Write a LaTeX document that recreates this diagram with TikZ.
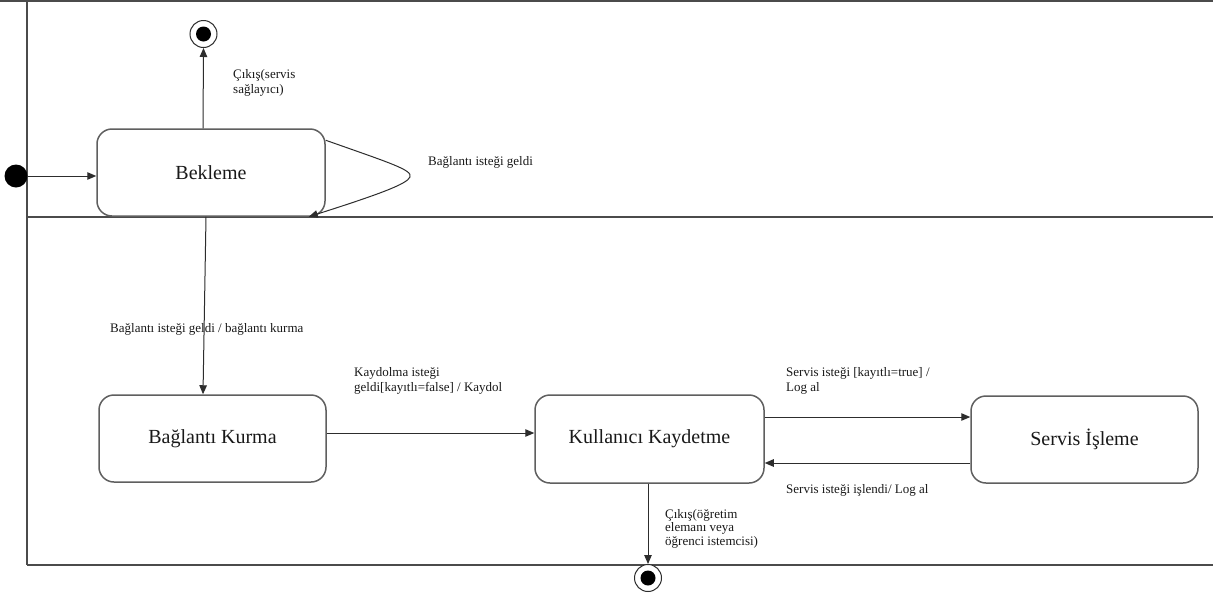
\documentclass[tikz,border=0pt]{standalone}
\usepackage{fontspec}
\setmainfont{Liberation Serif}
\usetikzlibrary{arrows.meta}
\definecolor{linec}{RGB}{45,45,45}
\definecolor{boxc}{RGB}{95,95,95}
\definecolor{framec}{RGB}{75,75,75}
\definecolor{txt}{RGB}{25,25,25}
\begin{document}
\begin{tikzpicture}[x=1pt,y=-1pt,
  statebox/.style={draw=boxc, line width=1.5pt, rounded corners=15pt, fill=white, inner sep=0pt,
    font=\fontsize{20}{24}\selectfont, text=txt},
  lbl/.style={anchor=north west, inner sep=0pt, align=left, font=\fontsize{13}{15}\selectfont, text=txt},
  conn/.style={draw=linec, line width=1pt, -{Triangle[length=9pt,width=7.5pt]}},
  framel/.style={draw=framec, line width=1.5pt},
  finalst/.style={circle, draw=linec, line width=1pt, fill=white, minimum size=27pt, inner sep=0pt,
    path picture={\fill[black] (path picture bounding box.center) circle (7.5pt);}},
]
\useasboundingbox[fill=white] (0,0) rectangle (1213,595);

% frame
\draw[framel] (27,0) -- (27,565);
\draw[framel] (0,0.75) -- (1213,0.75);
\draw[framel] (27,217) -- (1213,217);
\draw[framel] (27,565) -- (1213,565);

% states
\node[statebox, minimum width=228pt, minimum height=87pt] (bek) at (211,172.5) {Bekleme};
\node[statebox, minimum width=227pt, minimum height=87pt] (bk) at (212.5,438.5) {Bağlantı Kurma};
\node[statebox, minimum width=229pt, minimum height=88pt] (kk) at (649.5,439) {Kullanıcı Kaydetme};
\node[statebox, minimum width=227pt, minimum height=87pt] (si) at (1084.5,439.5) {Servis İşleme};

% pseudo states
\node[circle, fill=black, minimum size=23pt, inner sep=0pt] (init) at (16,176) {};
\node[finalst] (fin1) at (203.5,34) {};
\node[finalst] (fin2) at (648,578) {};

% helper coordinates
\coordinate (yk) at (0,433);
\coordinate (ys1) at (0,417);
\coordinate (ys2) at (0,463);

% connectors
\draw[conn] (init.east) -- (bek.west |- init.east);
\draw[conn] ([xshift=-8pt]bek.north) -- (fin1.south);
\draw[conn] ([yshift=-12pt]bek.north east) .. controls (390,163) and (413,170) .. (410,177)
  .. controls (407,184) and (380,194) .. ([xshift=-17pt]bek.south east);
\draw[conn] ([xshift=-5pt]bek.south) -- ([xshift=-9.5pt]bk.north);
\draw[conn] (bk.east |- yk) -- (kk.west |- yk);
\draw[conn] (kk.east |- ys1) -- (si.west |- ys1);
\draw[conn] (si.west |- ys2) -- (kk.east |- ys2);
\draw[conn] (kk.south -| fin2) -- (fin2.north);

% labels
\node[lbl] (l1) at (233,69) {Çıkış(servis\\sağlayıcı)};
\node[lbl] (l2) at (428,156) {Bağlantı isteği geldi};
\node[lbl] (l3) at (110,323) {Bağlantı isteği geldi / bağlantı kurma};
\node[lbl] (l4) at (354,367) {Kaydolma isteği\\geldi[kayıtlı=false] / Kaydol};
\node[lbl] (l5) at (786,367) {Servis isteği [kayıtlı=true] /\\Log al};
\node[lbl] (l6) at (786,484) {Servis isteği işlendi/ Log al};
\node[lbl, font=\fontsize{13}{13.5}\selectfont] (l7) at (665,509) {Çıkış(öğretim\\elemanı veya\\öğrenci istemcisi)};
\end{tikzpicture}
\end{document}
